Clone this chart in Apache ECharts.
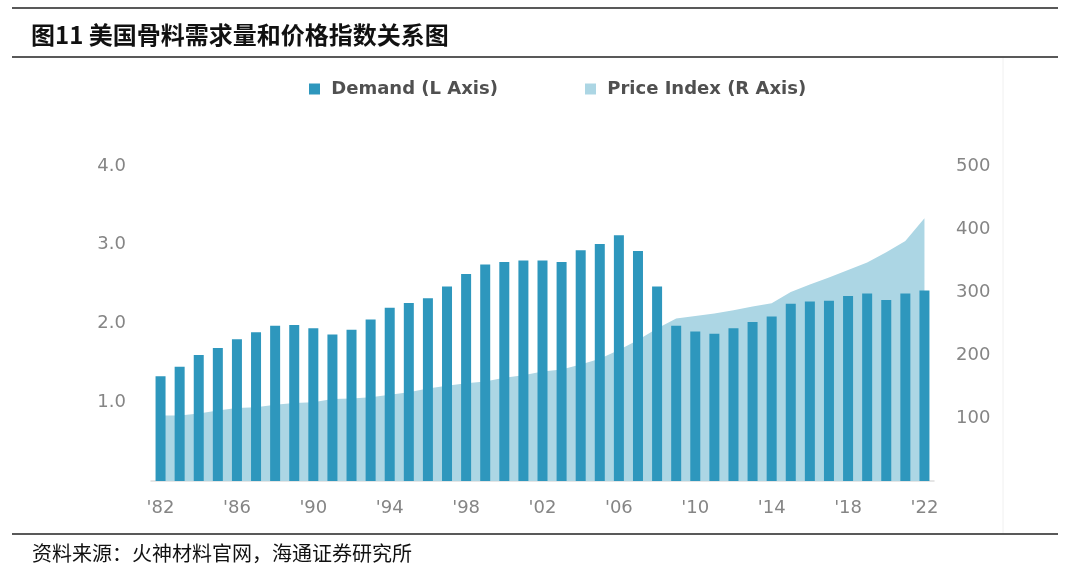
<!DOCTYPE html>
<html>
<head>
<meta charset="utf-8">
<script src="https://cdn.jsdelivr.net/npm/echarts@6/dist/echarts.min.js"></script>
<style>
  html, body { margin: 0; padding: 0; background: #fff; }
  #chart { width: 1080px; height: 565px; }
</style>
</head>
<body>
<div id="chart"></div>
<script>
const years = ["'82", "'83", "'84", "'85", "'86", "'87", "'88", "'89", "'90", "'91",
  "'92", "'93", "'94", "'95", "'96", "'97", "'98", "'99", "'00", "'01",
  "'02", "'03", "'04", "'05", "'06", "'07", "'08", "'09", "'10", "'11",
  "'12", "'13", "'14", "'15", "'16", "'17", "'18", "'19", "'20", "'21", "'22"];

// demand, left axis
const demand = [1.33, 1.45, 1.60, 1.69, 1.80, 1.89, 1.97, 1.98, 1.94, 1.86,
  1.92, 2.05, 2.20, 2.26, 2.32, 2.47, 2.63, 2.75, 2.78, 2.80,
  2.80, 2.78, 2.93, 3.01, 3.12, 2.92, 2.47, 1.97, 1.90, 1.87,
  1.94, 2.02, 2.09, 2.25, 2.28, 2.29, 2.35, 2.38, 2.30, 2.38, 2.42];

// price index, right axis
const price = [104, 104, 107, 112, 116, 117, 121, 124, 125, 130,
  131, 133, 137, 141, 147, 151, 155, 158, 164, 168,
  174, 177, 185, 194, 208, 224, 242, 258, 262, 266,
  271, 277, 282, 300, 312, 323, 335, 347, 363, 381, 417];

const leftTicks = { min: 0, max: 4, interval: 1 };
const rightTicks = { min: 0, max: 500, interval: 100 };

const BAR = '#2e97bd';
const AREA = '#acd6e4';
const LABEL = '#858585';
const numFont = 'DejaVu Sans';

const chart = echarts.init(document.getElementById('chart'));

const legendBase = {
  orient: 'horizontal',
  icon: 'rect',
  itemWidth: 11,
  itemHeight: 11,
  top: 75,
  textStyle: { fontFamily: numFont, fontSize: 18, fontWeight: 'bold', color: '#505050' },
  formatter: n => ' ' + n,
  selectedMode: false
};

chart.setOption({
  animation: false,
  backgroundColor: '#fff',
  title: [{
    text: '图11 美国骨料需求量和价格指数关系图',
    left: 26,
    top: 18,
    textStyle: { fontFamily: 'Noto Sans CJK SC', fontWeight: 'bold', fontSize: 24, color: '#111' }
  }, {
    text: '资料来源：火神材料官网，海通证券研究所',
    left: 27,
    top: 538,
    textStyle: { fontFamily: 'Noto Sans CJK SC', fontWeight: 'normal', fontSize: 20, color: '#111' }
  }],
  legend: [
    Object.assign({}, legendBase, { left: 304, data: ['Demand (L Axis)'] }),
    Object.assign({}, legendBase, { left: 580, data: ['Price Index (R Axis)'] })
  ],
  grid: { left: 151, right: 146, top: 166, bottom: 84, containLabel: false },
  xAxis: {
    type: 'category',
    data: years,
    boundaryGap: true,
    axisLine: { lineStyle: { color: '#ddd', width: 1.5 } },
    axisTick: { show: false },
    axisLabel: { interval: 3, margin: 18, color: LABEL, fontFamily: numFont, fontSize: 18 }
  },
  yAxis: [{
    type: 'value',
    min: leftTicks.min, max: leftTicks.max, interval: leftTicks.interval,
    splitLine: { show: false },
    axisLine: { show: false },
    axisTick: { show: false },
    axisLabel: {
      margin: 25, color: LABEL, fontFamily: numFont, fontSize: 18,
      formatter: v => v === 0 ? '' : v.toFixed(1)
    }
  }, {
    type: 'value',
    min: rightTicks.min, max: rightTicks.max, interval: rightTicks.interval,
    splitLine: { show: false },
    axisLine: { show: false },
    axisTick: { show: false },
    axisLabel: {
      margin: 22, color: LABEL, fontFamily: numFont, fontSize: 18,
      formatter: v => v === 0 ? '' : String(v)
    }
  }],
  series: [{
    name: 'Price Index (R Axis)',
    type: 'line',
    yAxisIndex: 1,
    data: price,
    showSymbol: false,
    symbol: 'none',
    z: 1,
    itemStyle: { color: AREA },
    lineStyle: { width: 0, color: AREA },
    areaStyle: { color: AREA, opacity: 1 }
  }, {
    name: 'Demand (L Axis)',
    type: 'bar',
    yAxisIndex: 0,
    data: demand,
    barWidth: 10,
    z: 2,
    itemStyle: { color: BAR }
  }],
  graphic: [
    { type: 'line', shape: { x1: 12, y1: 8, x2: 1058, y2: 8 }, style: { stroke: '#222', lineWidth: 1.5 } },
    { type: 'line', shape: { x1: 12, y1: 57, x2: 1058, y2: 57 }, style: { stroke: '#222', lineWidth: 1.5 } },
    { type: 'line', shape: { x1: 12, y1: 534, x2: 1058, y2: 534 }, style: { stroke: '#222', lineWidth: 1.5 } },
    { type: 'line', shape: { x1: 1003, y1: 58, x2: 1003, y2: 533 }, style: { stroke: '#f0f0f0', lineWidth: 1 } }
  ]
});
</script>
</body>
</html>
